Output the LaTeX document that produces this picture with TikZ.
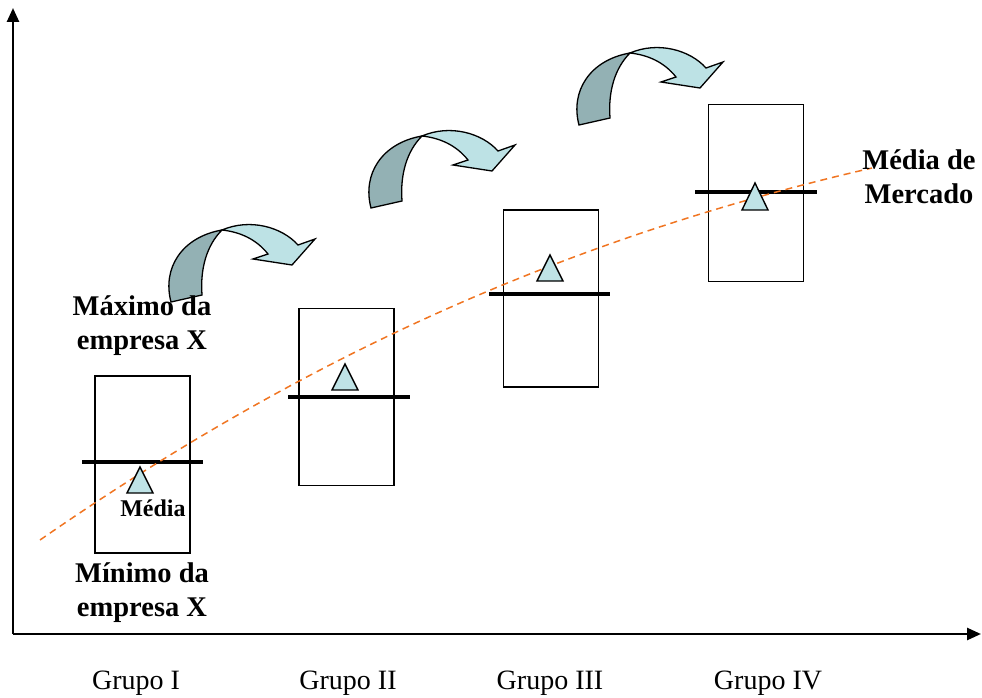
\documentclass[tikz,border=0pt]{standalone}
\usepackage{fontspec}
\setmainfont{Liberation Serif}
\usetikzlibrary{arrows.meta}
\definecolor{ribbonlight}{HTML}{BDE2E5}
\definecolor{ribbondark}{HTML}{93B1B4}
\definecolor{marklight}{HTML}{BFE3E6}
\definecolor{trend}{HTML}{F07522}
\tikzset{
  axisline/.style={line width=2.6pt,-{Triangle[length=14pt,width=12pt]}},
  grpbox/.style={draw,line width=1.4pt,minimum width=95pt,minimum height=177pt,inner sep=0pt},
  meanbar/.style={line width=3.6pt},
  marker/.style={draw,line width=1.4pt,fill=marklight,line join=miter},
  trendline/.style={trend,line width=1.5pt,dash pattern=on 7pt off 5pt},
  lbl/.style={font=\fontsize{28}{34}\selectfont,align=center,inner sep=0pt},
  blbl/.style={lbl,font=\fontsize{28.5}{34}\selectfont\bfseries},
  twistarrow/.pic={
    % pale front face of the ribbon with its head
    \draw[line width=1.3pt,fill=ribbonlight,line join=miter]
      (222,230) .. controls (250,218) and (282,227) .. (298,245)
      -- (315,239) -- (292,265) -- (253,259) -- (268,254)
      .. controls (256,239) and (240,232) .. (222,230) -- cycle;
    % darker back face rising from the base
    \draw[line width=1.3pt,fill=ribbondark,line join=miter]
      (171,302) .. controls (162,268) and (182,237) .. (222,230)
      .. controls (207,245) and (200,268) .. (202,295) -- cycle;
  }
}
\begin{document}
\begin{tikzpicture}[x=1pt,y=-1pt]
\useasboundingbox (0,0) rectangle (982,698);

% axes
\coordinate (origin) at (13,634);
\coordinate (ytop) at (13,8);
\coordinate (xend) at (981,634);
\draw[axisline] (origin) -- (ytop);
\draw[axisline] (origin) -- (xend);

% ranges of each group
\node[grpbox] (b1) at (142.5,464.5) {};
\node[grpbox] (b2) at (346.5,397) {};
\node[grpbox] (b3) at (551,298.5) {};
\node[grpbox] (b4) at (756,193) {};

% company averages
\draw[meanbar] (82,462) -- (203,462);
\draw[meanbar] (288,397) -- (410,397);
\draw[meanbar] (489,294) -- (610,294);
\draw[meanbar] (695,192) -- (817,192);

% market trend
\draw[trendline] (40,540) .. controls (300,360) and (560,240) .. (872,168);

% market averages
\draw[marker] (140,467) -- (153,493) -- (127,493) -- cycle;
\draw[marker] (345,364) -- (358,390) -- (332,390) -- cycle;
\draw[marker] (550,255) -- (563,281) -- (537,281) -- cycle;
\draw[marker] (755,183) -- (768,210) -- (742,210) -- cycle;

% progression arrows between groups
\pic at (0,0) {twistarrow};
\pic at (200,-94) {twistarrow};
\pic at (408,-177) {twistarrow};

% labels
\node[blbl] (maxl) at (142,326) {Máximo da\\empresa X};
\node[blbl] (minl) at (142,593) {Mínimo da\\empresa X};
\node[blbl,font=\fontsize{24}{28}\selectfont\bfseries] (medl) at (153,508) {Média};
\node[blbl] (mktl) at (919,177) {Média de\\Mercado};
\node[lbl] (g1) at (136,683) {Grupo I};
\node[lbl] (g2) at (348,683) {Grupo II};
\node[lbl] (g3) at (550,683) {Grupo III};
\node[lbl] (g4) at (768,683) {Grupo IV};
\end{tikzpicture}
\end{document}
